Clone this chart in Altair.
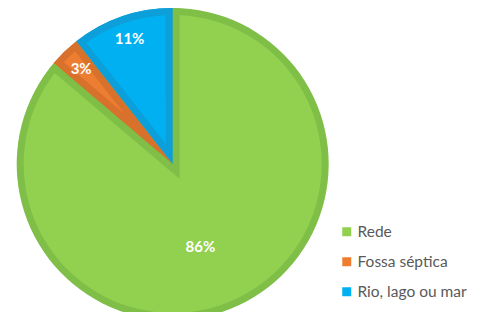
import math
import altair as alt
import pandas as pd

# ---- data ----
categories = ["Rede", "Fossa séptica", "Rio, lago ou mar"]
values = [86.2, 3.2, 10.6]
labels = ["86%", "3%", "11%"]
order = [0, 1, 2]

light_colors = ["#92D050", "#ED7D31", "#00B0F0"]
dark_colors = ["#7FBF48", "#D7712C", "#0C9FDA"]

df = pd.DataFrame({"cat": categories, "value": values, "label": labels, "order": order})
total = sum(values)

# ---- geometry (styling) ----
CX, CY = 164.7, 156.0
R = 156.0
B = 7.0

# expanded gap wedge (dark green band along the gap edges)
gap_frac = (values[1] + values[2]) / total
half_gap = gap_frac * math.pi
d_gap = B / math.sin(half_gap)
theta_g = values[0] / total * math.pi
PX = CX + d_gap * math.sin(theta_g)
PY = CY - d_gap * math.cos(theta_g)
kk = 2 * d_gap * math.cos(half_gap)
RP = (kk + math.sqrt(kk * kk + 4 * (R * R - d_gap * d_gap))) / 2


def inset_params(v):
    half = v / total * math.pi
    r0 = B / math.sin(half) * 0.995
    r1 = R - B
    rp = math.sqrt(r0 * r0 + r1 * r1)
    pad = 2 * math.asin(B / rp)
    return r0, r1, pad


theta_scale = alt.Scale(domain=[0, total], range=[0, 2 * math.pi])

base = (
    alt.Chart(df)
    .transform_window(end="sum(value)", sort=[alt.SortField("order")], frame=[None, 0])
    .transform_calculate(start="datum.end - datum.value", mid="datum.end - datum.value / 2")
)

th = alt.Theta("start:Q", scale=theta_scale)
th2 = alt.Theta2("end:Q")
cx = alt.value(CX)
cy = alt.value(CY)

dark_all = base.mark_arc(radius=R, stroke=None).encode(
    theta=th, theta2=th2, x=cx, y=cy,
    color=alt.Color("cat:N", scale=alt.Scale(domain=categories, range=dark_colors), legend=None),
)

light_all = base.mark_arc(radius=R - B, stroke=None).encode(
    theta=th, theta2=th2, x=cx, y=cy,
    color=alt.Color(
        "cat:N",
        scale=alt.Scale(domain=categories, range=light_colors),
        legend=alt.Legend(
            orient="none", legendX=331, legendY=216, title=None,
            symbolType="square", symbolSize=81, symbolStrokeWidth=0,
            labelFontSize=15.5, labelFont="Lato", labelColor="#595959",
            rowPadding=13, labelOffset=3, padding=0,
        ),
    ),
)

gap_wedge = base.transform_filter(alt.datum.cat != categories[0]).mark_arc(
    radius=RP, stroke=None, color=dark_colors[0]
).encode(theta=th, theta2=th2, x=alt.value(PX), y=alt.value(PY))

dark_small = base.transform_filter(alt.datum.cat != categories[0]).mark_arc(radius=R, stroke=None).encode(
    theta=th, theta2=th2, x=cx, y=cy,
    color=alt.Color("cat:N", scale=alt.Scale(domain=categories, range=dark_colors), legend=None),
)

r0o, r1o, pado = inset_params(values[1])
inset_orange = base.transform_filter(alt.datum.cat == categories[1]).mark_arc(
    radius=r1o, radius2=r0o, padAngle=pado, stroke=None, color=light_colors[1]
).encode(theta=th, theta2=th2, x=cx, y=cy)

r0b, r1b, padb = inset_params(values[2])
inset_blue = base.transform_filter(alt.datum.cat == categories[2]).mark_arc(
    radius=r1b, radius2=r0b, padAngle=padb, stroke=None, color=light_colors[2]
).encode(theta=th, theta2=th2, x=cx, y=cy)

txt_big = base.transform_filter(alt.datum.cat == categories[0]).mark_text(
    radius=85, font="Lato", fontWeight="bold", fontSize=15, color="white",
    align="center", baseline="middle", dx=-8, dy=6,
).encode(theta=alt.Theta("mid:Q", scale=theta_scale), text="label:N", x=cx, y=cy)

txt_small = base.transform_filter(alt.datum.cat != categories[0]).mark_text(
    radius=132, font="Lato", fontWeight="bold", fontSize=15, color="white",
    align="center", baseline="middle",
).encode(theta=alt.Theta("mid:Q", scale=theta_scale), text="label:N", x=cx, y=cy)

chart = (
    alt.layer(dark_all, light_all, gap_wedge, dark_small, inset_orange, inset_blue, txt_big, txt_small)
    .resolve_scale(color="independent")
    .properties(width=463, height=304, autosize="none", padding=0)
    .configure_view(stroke=None)
)

chart.save("out.html", embed_options={"renderer": "svg", "actions": False})
